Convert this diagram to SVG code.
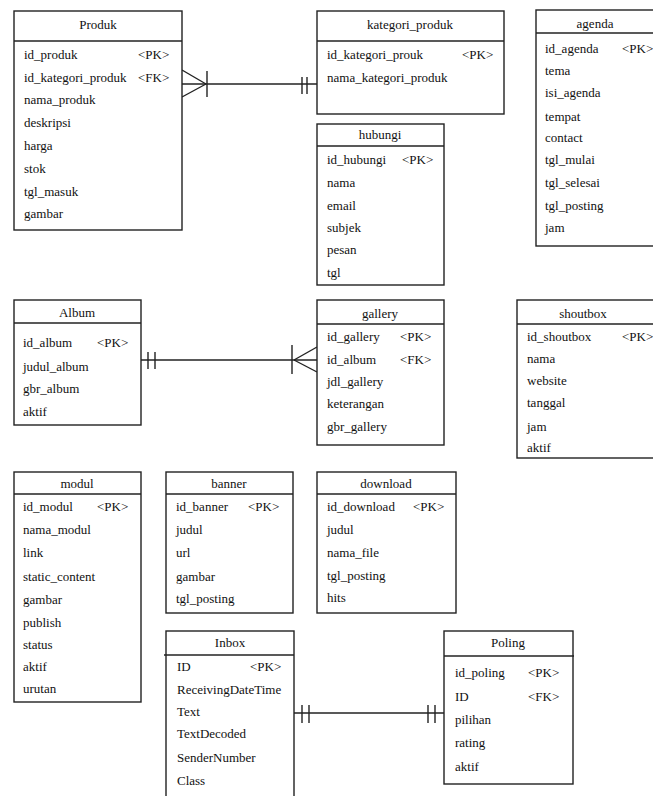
<svg xmlns="http://www.w3.org/2000/svg" width="653" height="796" viewBox="0 0 653 796" font-family="Liberation Serif, Times New Roman, serif">
<style>
.box{fill:#fff;stroke:#222;stroke-width:1.4}
.ln{stroke:#222;stroke-width:1.4;fill:none}
text{font-family:'Liberation Serif','Times New Roman',serif;font-size:13px;fill:#111}
.h{text-anchor:middle}
</style>
<rect width="653" height="796" fill="#fff"/>

<g id="connectors">
  <line class="ln" x1="182" y1="84" x2="317" y2="84"/>
  <line class="ln" x1="182" y1="70" x2="206" y2="84"/>
  <line class="ln" x1="182" y1="97" x2="206" y2="84"/>
  <line class="ln" x1="207" y1="71" x2="207" y2="97"/>
  <line class="ln" x1="302" y1="77" x2="302" y2="94"/>
  <line class="ln" x1="307" y1="77" x2="307" y2="94"/>
  <line class="ln" x1="141" y1="360" x2="317" y2="360"/>
  <line class="ln" x1="148" y1="352" x2="148" y2="369"/>
  <line class="ln" x1="155" y1="352" x2="155" y2="369"/>
  <line class="ln" x1="292" y1="345" x2="292" y2="374"/>
  <line class="ln" x1="294" y1="360" x2="317" y2="347"/>
  <line class="ln" x1="294" y1="360" x2="317" y2="372"/>
  <line class="ln" x1="294" y1="713" x2="444" y2="713"/>
  <line class="ln" x1="302" y1="705" x2="302" y2="723"/>
  <line class="ln" x1="309" y1="705" x2="309" y2="723"/>
  <line class="ln" x1="428" y1="705" x2="428" y2="723"/>
  <line class="ln" x1="435" y1="705" x2="435" y2="723"/>
</g>

<g id="produk">
  <rect class="box" x="14" y="11" width="168" height="219"/>
  <line class="ln" x1="14" y1="41" x2="182" y2="41"/>
  <text class="h" x="98" y="29">Produk</text>
  <text x="24" y="59">id_produk</text><text x="138" y="59">&lt;PK&gt;</text>
  <text x="24" y="82">id_kategori_produk</text><text x="138" y="82">&lt;FK&gt;</text>
  <text x="24" y="104">nama_produk</text>
  <text x="24" y="127">deskripsi</text>
  <text x="24" y="150">harga</text>
  <text x="24" y="173">stok</text>
  <text x="24" y="196">tgl_masuk</text>
  <text x="24" y="218">gambar</text>
</g>

<g id="kategori_produk">
  <rect class="box" x="317" y="11" width="187" height="103"/>
  <line class="ln" x1="317" y1="41" x2="504" y2="41"/>
  <text class="h" x="410" y="29">kategori_produk</text>
  <text x="327" y="59">id_kategori_prouk</text><text x="462" y="59">&lt;PK&gt;</text>
  <text x="327" y="82">nama_kategori_produk</text>
</g>

<g id="hubungi">
  <rect class="box" x="317" y="124" width="127" height="161"/>
  <line class="ln" x1="317" y1="146" x2="444" y2="146"/>
  <text class="h" x="380" y="139">hubungi</text>
  <text x="327" y="164">id_hubungi</text><text x="402" y="164">&lt;PK&gt;</text>
  <text x="327" y="187">nama</text>
  <text x="327" y="210">email</text>
  <text x="327" y="232">subjek</text>
  <text x="327" y="254">pesan</text>
  <text x="327" y="277">tgl</text>
</g>

<g id="agenda">
  <rect class="box" x="536" y="10" width="125" height="236"/>
  <line class="ln" x1="536" y1="33" x2="661" y2="33"/>
  <text class="h" x="595" y="28">agenda</text>
  <text x="545" y="53">id_agenda</text><text x="622" y="53">&lt;PK&gt;</text>
  <text x="545" y="75">tema</text>
  <text x="545" y="97">isi_agenda</text>
  <text x="545" y="121">tempat</text>
  <text x="545" y="142">contact</text>
  <text x="545" y="164">tgl_mulai</text>
  <text x="545" y="187">tgl_selesai</text>
  <text x="545" y="210">tgl_posting</text>
  <text x="545" y="232">jam</text>
</g>

<g id="album">
  <rect class="box" x="14" y="300" width="127" height="125"/>
  <line class="ln" x1="14" y1="323" x2="141" y2="323"/>
  <text class="h" x="77" y="317">Album</text>
  <text x="23" y="347">id_album</text><text x="97" y="347">&lt;PK&gt;</text>
  <text x="23" y="371">judul_album</text>
  <text x="23" y="393">gbr_album</text>
  <text x="23" y="416">aktif</text>
</g>

<g id="gallery">
  <rect class="box" x="317" y="300" width="127" height="145"/>
  <line class="ln" x1="317" y1="324" x2="444" y2="324"/>
  <text class="h" x="380" y="318">gallery</text>
  <text x="327" y="341">id_gallery</text><text x="400" y="341">&lt;PK&gt;</text>
  <text x="327" y="364">id_album</text><text x="400" y="364">&lt;FK&gt;</text>
  <text x="327" y="386">jdl_gallery</text>
  <text x="327" y="408">keterangan</text>
  <text x="327" y="431">gbr_gallery</text>
</g>

<g id="shoutbox">
  <rect class="box" x="517" y="300" width="144" height="158"/>
  <line class="ln" x1="517" y1="324" x2="661" y2="324"/>
  <text class="h" x="583" y="318">shoutbox</text>
  <text x="527" y="341">id_shoutbox</text><text x="622" y="341">&lt;PK&gt;</text>
  <text x="527" y="363">nama</text>
  <text x="527" y="385">website</text>
  <text x="527" y="407">tanggal</text>
  <text x="527" y="431">jam</text>
  <text x="527" y="452" font-size="12">aktif</text>
</g>

<g id="modul">
  <rect class="box" x="14" y="472" width="127" height="230"/>
  <line class="ln" x1="14" y1="494" x2="141" y2="494"/>
  <text class="h" x="77" y="488">modul</text>
  <text x="23" y="511">id_modul</text><text x="97" y="511">&lt;PK&gt;</text>
  <text x="23" y="534">nama_modul</text>
  <text x="23" y="557">link</text>
  <text x="23" y="581">static_content</text>
  <text x="23" y="604">gambar</text>
  <text x="23" y="627">publish</text>
  <text x="23" y="649">status</text>
  <text x="23" y="671">aktif</text>
  <text x="23" y="693">urutan</text>
</g>

<g id="banner">
  <rect class="box" x="166" y="472" width="127" height="141"/>
  <line class="ln" x1="166" y1="494" x2="293" y2="494"/>
  <text class="h" x="229" y="488">banner</text>
  <text x="176" y="511">id_banner</text><text x="248" y="511">&lt;PK&gt;</text>
  <text x="176" y="534">judul</text>
  <text x="176" y="557">url</text>
  <text x="176" y="581">gambar</text>
  <text x="176" y="603">tgl_posting</text>
</g>

<g id="download">
  <rect class="box" x="317" y="472" width="139" height="141"/>
  <line class="ln" x1="317" y1="494" x2="456" y2="494"/>
  <text class="h" x="386" y="488">download</text>
  <text x="327" y="511">id_download</text><text x="413" y="511">&lt;PK&gt;</text>
  <text x="327" y="534">judul</text>
  <text x="327" y="557">nama_file</text>
  <text x="327" y="580">tgl_posting</text>
  <text x="327" y="602">hits</text>
</g>

<g id="inbox">
  <rect class="box" x="166" y="631" width="128" height="175"/>
  <line class="ln" x1="164" y1="655" x2="294" y2="655"/>
  <text class="h" x="230" y="647">Inbox</text>
  <text x="177" y="671">ID</text><text x="250" y="671">&lt;PK&gt;</text>
  <text x="177" y="694">ReceivingDateTime</text>
  <text x="177" y="716">Text</text>
  <text x="177" y="738">TextDecoded</text>
  <text x="177" y="762">SenderNumber</text>
  <text x="177" y="785">Class</text>
</g>

<g id="poling">
  <rect class="box" x="444" y="631" width="129" height="153"/>
  <line class="ln" x1="444" y1="656" x2="574" y2="656"/>
  <text class="h" x="508" y="647">Poling</text>
  <text x="455" y="677">id_poling</text><text x="528" y="677">&lt;PK&gt;</text>
  <text x="455" y="701">ID</text><text x="528" y="701">&lt;FK&gt;</text>
  <text x="455" y="724">pilihan</text>
  <text x="455" y="747">rating</text>
  <text x="455" y="771">aktif</text>
</g>
</svg>
